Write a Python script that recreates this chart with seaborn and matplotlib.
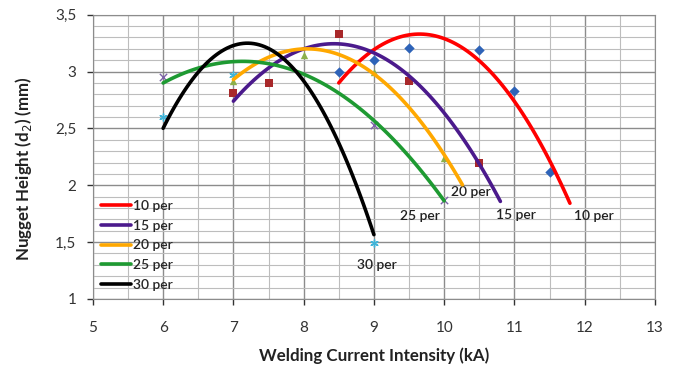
import numpy as np
import pandas as pd
import matplotlib
matplotlib.use("Agg")
from matplotlib import pyplot as plt
from matplotlib.ticker import MultipleLocator, FuncFormatter
import seaborn as sns

series = ["10 per", "15 per", "20 per", "25 per", "30 per"]
line_colors = ["#ff0000", "#4b1a8c", "#ffa800", "#1e9a32", "#000000"]

# measured points (the original sheet's series markers)
x_10 = [8.5, 9.0, 9.5, 10.5, 11.0, 11.5]
y_10 = [3.00, 3.10, 3.21, 3.19, 2.83, 2.12]
x_15 = [7.0, 7.5, 8.5, 9.5, 10.5]
y_15 = [2.81, 2.90, 3.33, 2.92, 2.20]
x_20 = [7.0, 8.0, 9.0, 10.0]
y_20 = [2.92, 3.15, 3.00, 2.24]
x_25 = [6.0, 9.0, 10.0]
y_25 = [2.95, 2.53, 1.87]
x_30 = [6.0, 7.0, 9.0]
y_30 = [2.60, 2.97, 1.49]

marker_colors = ["#2e63b8", "#a8282a", "#8cb04a", "#7d62a8", "#40b4d8"]
marker_shapes = ["D", "s", "^", "x", (6, 2, 0)]

# polynomial (order 2) trendlines: y = a*(x - h)^2 + k, drawn over [x_from, x_to]
trend_a = [-0.325, -0.247, -0.245, -0.149, -0.52]
trend_h = [9.65, 8.43, 8.05, 7.13, 7.20]
trend_k = [3.33, 3.245, 3.20, 3.09, 3.25]
trend_from = [8.5, 7.0, 7.0, 6.0, 6.0]
trend_to = [11.79, 10.8, 10.26, 10.0, 9.0]

# end label offsets in points (from the end of each trendline)
label_dx = [3, -3, -8, -32, -12]
label_dy = [-9, -10, -5, -11, -22]

point_x = [x_10, x_15, x_20, x_25, x_30]
point_y = [y_10, y_15, y_20, y_25, y_30]

rows = []
for name, a, h, k, x0, x1 in zip(series, trend_a, trend_h, trend_k, trend_from, trend_to):
    for x in np.linspace(x0, x1, 80):
        rows.append({"kA": x, "d2": a * (x - h) ** 2 + k, "serie": name})
curves = pd.DataFrame(rows)

sns.set_style("white")
plt.rcParams["font.family"] = ["Lato", "DejaVu Sans"]

fig = plt.figure(figsize=(6.78, 3.69), dpi=100)
ax = fig.add_axes([0.137, 0.19, 0.829, 0.77])

ax.set_xlim(5, 13)
ax.set_ylim(1, 3.5)
ax.xaxis.set_major_locator(MultipleLocator(1))
ax.xaxis.set_minor_locator(MultipleLocator(0.5))
ax.yaxis.set_major_locator(MultipleLocator(0.5))
ax.yaxis.set_minor_locator(MultipleLocator(0.1))
ax.grid(which="major", color="#8c8c8c", lw=1.0)
ax.grid(which="minor", color="#bdbdbd", lw=0.8)
ax.set_axisbelow(True)

for i in range(5):
    sns.scatterplot(x=point_x[i], y=point_y[i], ax=ax, marker=marker_shapes[i],
                    color=marker_colors[i], s=28, linewidth=1.0 if i >= 3 else 0,
                    edgecolor=marker_colors[i], zorder=3, legend=False)

sns.lineplot(data=curves, x="kA", y="d2", hue="serie", palette=line_colors,
             lw=2.6, ax=ax, zorder=4, sort=False)

for i, name in enumerate(series):
    xe = trend_to[i]
    ye = trend_a[i] * (xe - trend_h[i]) ** 2 + trend_k[i]
    ax.annotate(name, xy=(xe, ye), xytext=(label_dx[i], label_dy[i]),
                textcoords="offset points", ha="left", va="center",
                fontsize=10, fontweight="semibold", color="#222222")

fmt = FuncFormatter(lambda v, p: f"{v:g}".replace(".", ","))
ax.yaxis.set_major_formatter(fmt)
ax.xaxis.set_major_formatter(fmt)
ax.tick_params(axis="both", which="major", labelsize=11, colors="#333333",
               length=4, width=1, direction="out", pad=12)
ax.tick_params(axis="y", pad=8)
ax.tick_params(axis="x", bottom=True)
ax.tick_params(axis="y", left=True)
ax.tick_params(which="minor", length=0)
for sp in ax.spines.values():
    sp.set_color("#8c8c8c")

ax.set_xlabel("Welding Current Intensity (kA)", fontsize=12.2, fontweight="bold",
              color="#222222", labelpad=9)
ax.set_ylabel("Nugget Height (d$_2$) (mm)", fontsize=12.2, fontweight="bold",
              color="#222222")
ax.yaxis.set_label_coords(-0.104, 0.46)

ax.legend(loc="lower left", bbox_to_anchor=(0.0, 0.0), frameon=False,
          handlelength=2.2, handletextpad=0.15, labelspacing=0.57,
          prop={"size": 10, "weight": "semibold"}, borderaxespad=0.15)

fig.savefig("out.png", dpi=100)
